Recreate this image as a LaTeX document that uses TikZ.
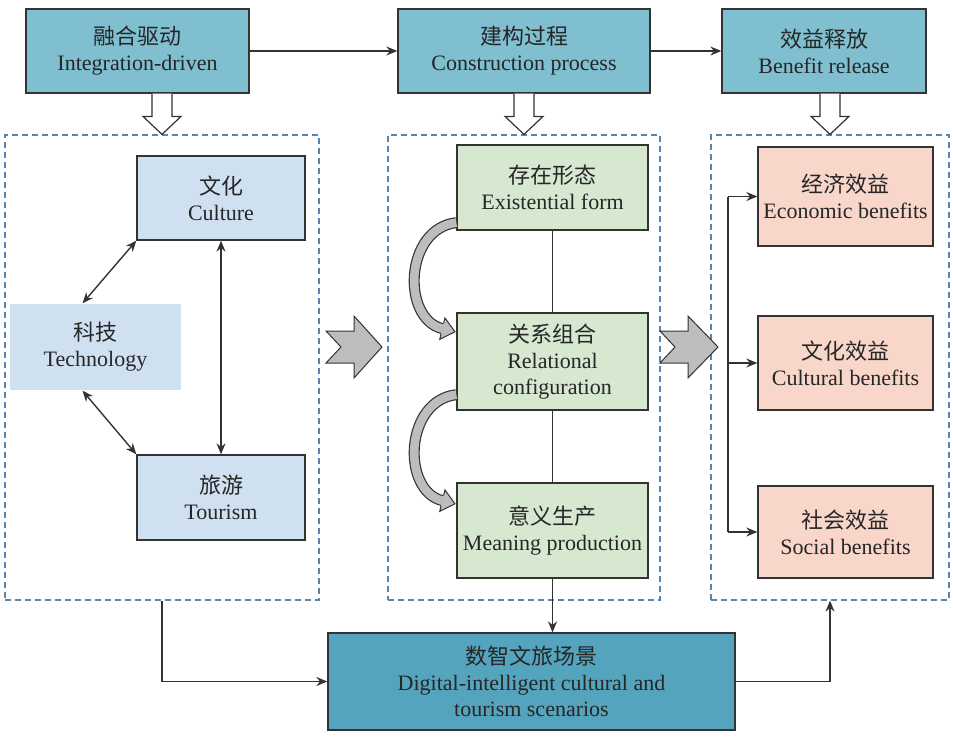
\documentclass[tikz,border=0pt]{standalone}
\usepackage{fontspec}
\setmainfont{Liberation Serif}
\newfontfamily\cjk{Noto Sans CJK SC}
\usetikzlibrary{arrows.meta,calc}

\definecolor{topblue}{HTML}{7FBFD0}
\definecolor{deepblue}{HTML}{54A4BE}
\definecolor{paleblue}{HTML}{CFE1F1}
\definecolor{palegreen}{HTML}{D6E8D0}
\definecolor{palepink}{HTML}{F8D6C9}
\definecolor{framec}{HTML}{5B84AE}
\definecolor{linec}{HTML}{333333}
\definecolor{chevgray}{HTML}{BDBDBD}

\newcommand{\zh}[1]{{\cjk #1}}

% curved block arrow, #1 = start point on a box's west side
\newcommand{\bendarrow}[1]{%
  \draw[bendband, shift={#1}] (0,0) .. controls (-52,6) and (-55,96) .. (-14,106);
  \fill[chevgray, shift={#1}] (-16.6,116.7) -- (-1.4,109.1) -- (-11.4,95.3) -- cycle;
  \draw[linec, line width=1pt, line join=miter, shift={#1}] (-15.3,111.3) -- (-16.6,116.7) -- (-1.4,109.1) -- (-11.4,95.3) -- (-12.7,100.7);
}

\begin{document}
\begin{tikzpicture}[x=1pt, y=-1pt, font=\fontsize{22}{26}\selectfont,
  >={Stealth[length=11pt,width=9pt]}]

% --- Define Styles ---
\tikzset{
    box/.style={draw=linec, line width=1.3pt, align=center, text=black!85, inner sep=0pt},
    head/.style={box, fill=topblue, minimum height=84pt},
    frame/.style={draw=framec, dash pattern=on 6pt off 4pt, line width=1.2pt, inner sep=0pt, minimum height=465pt},
    factor/.style={box, fill=paleblue, minimum width=168pt},
    stage/.style={box, fill=palegreen, minimum width=191pt},
    yield/.style={box, fill=palepink, minimum width=175pt},
    link/.style={->, draw=linec, line width=1.4pt},
    twoway/.style={<->, draw=linec, line width=1.4pt},
    plain/.style={draw=linec, line width=1.2pt},
    hollow/.style={draw=linec, fill=white, line width=1.2pt, line join=miter},
    chev/.style={draw=linec, fill=chevgray, line width=1pt, line join=miter},
    bendband/.style={draw=linec, line width=11pt, postaction={draw=chevgray, line width=8.6pt}}
}

\useasboundingbox (0,0) rectangle (953,737);

% ================= FRAMES =================
\node[frame, minimum width=314pt] (leftbox) at (162,367.5) {};
\node[frame, minimum width=272pt] (midbox) at (524,367.5) {};
\node[frame, minimum width=238pt] (rightbox) at (830,367.5) {};

% ================= HEADERS =================
\node[head, minimum width=223pt] (drive) at (137.5,51) {\zh{融合驱动}\\Integration-driven};
\node[head, minimum width=252pt] (build) at (524,51) {\zh{建构过程}\\Construction process};
\node[head, minimum width=204pt] (gain) at (824,51) {\zh{效益释放}\\Benefit release};

\draw[link] (drive.east) -- (build.west);
\draw[link] (build.east) -- (gain.west);

\foreach \a/\b in {drive/leftbox, build/midbox, gain/rightbox}
    \draw[hollow] ($(\a.south -| \b.north)+(-10,0)$) -- ($(\b.north)+(-10,-18)$)
        -- ($(\b.north)+(-19,-18)$) -- (\b.north) -- ($(\b.north)+(19,-18)$)
        -- ($(\b.north)+(10,-18)$) -- ($(\a.south -| \b.north)+(10,0)$);

% ================= 1. DRIVERS =================
\node[factor, minimum height=84pt] (cul) at (221,198) {\zh{文化}\\Culture};
\node[factor, draw=none, minimum width=171pt, minimum height=86pt] (tech) at (95.5,347) {\zh{科技}\\Technology};
\node[factor, minimum height=85pt] (tour) at (221,497.5) {\zh{旅游}\\Tourism};

\draw[twoway] (cul.south west) -- ($(tech.north)+(-13,0)$);
\draw[twoway] ($(tech.south)+(-13,0)$) -- (tour.north west);
\draw[twoway] (cul.south) -- (tour.north);

% ================= 2. PROCESS =================
\node[stage, minimum height=85pt] (ex) at (552.5,187.5) {\zh{存在形态}\\Existential form};
\node[stage, minimum height=97pt] (rel) at (552.5,361.5) {\zh{关系组合}\\Relational\\configuration};
\node[stage, minimum height=95pt] (mean) at (552.5,530.5) {\zh{意义生产}\\Meaning production};

\draw[plain] (ex.south) -- (rel.north);
\draw[plain] (rel.south) -- (mean.north);
\bendarrow{($(ex.south west)+(0,-8)$)}
\bendarrow{($(rel.south west)+(0,-16)$)}

% ================= 3. BENEFITS =================
\node[yield, minimum height=99pt] (eco) at (845.5,196.5) {\zh{经济效益}\\Economic benefits};
\node[yield, minimum height=94pt] (cult) at (845.5,363) {\zh{文化效益}\\Cultural benefits};
\node[yield, minimum height=92pt] (soc) at (845.5,532) {\zh{社会效益}\\Social benefits};

\coordinate (trunk) at (728,363);
\draw[plain] (trunk |- eco.west) -- (trunk |- soc.west);
\foreach \n in {eco, cult, soc}
    \draw[link] (trunk |- \n.west) -- (\n.west);

% chevrons between the frames
\foreach \x/\l in {326/56, 660/58}
    \draw[chev, shift={(\x,347)}] (0,-16) -- (28,-16) -- (28,-31) -- (\l,0)
        -- (28,31) -- (28,16) -- (0,16) -- (15,0) -- cycle;

% ================= SCENARIO =================
\node[box, fill=deepblue, minimum width=407pt, minimum height=97pt] (scen) at (531.5,681.5)
    {\zh{数智文旅场景}\\Digital-intelligent cultural and\\tourism scenarios};

\draw[link] (leftbox.south) |- (scen.west);
\draw[link] (mean.south) -- (mean.south |- scen.north);
\draw[link] (scen.east) -| (rightbox.south);

\end{tikzpicture}
\end{document}
